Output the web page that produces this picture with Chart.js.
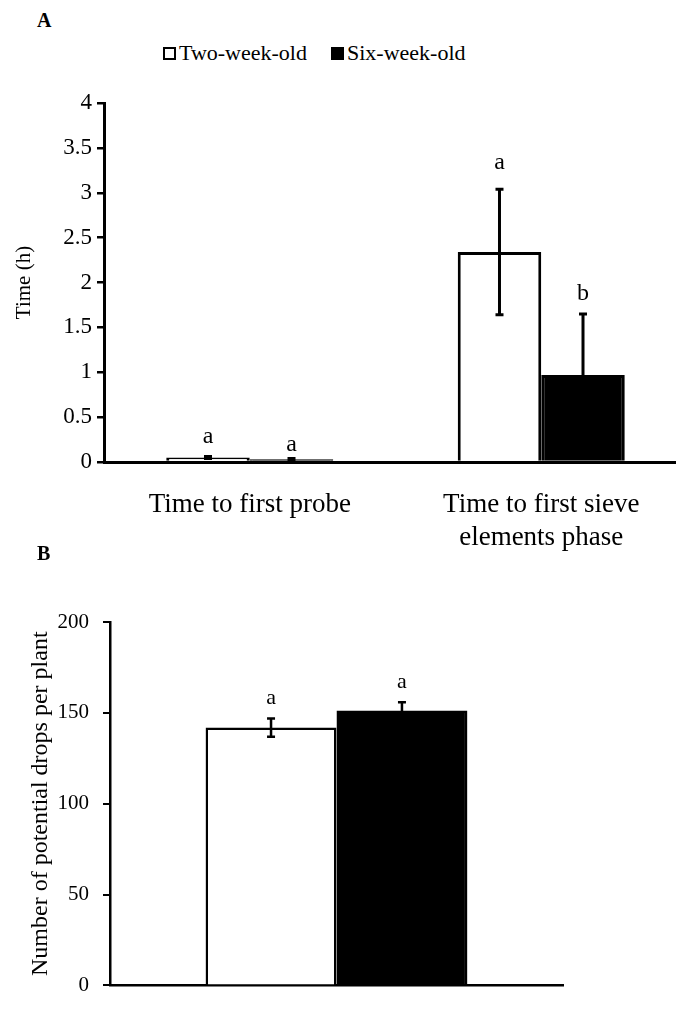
<!DOCTYPE html>
<html>
<head>
<meta charset="utf-8">
<script src="https://cdn.jsdelivr.net/npm/chart.js@4.4.1/dist/chart.umd.min.js"></script>
<style>
  html, body { margin: 0; padding: 0; background: #fff; overflow: hidden; }
  body { width: 676px; height: 1012px; position: relative; font-family: 'Liberation Serif', 'Times New Roman', serif; color: #000; }
  .tag { position: absolute; left: 37px; font-weight: bold; font-size: 20px; line-height: 20px; }
  #legendA { position: absolute; left: 163px; top: 41px; font-size: 22px; line-height: 24px; display: flex; align-items: center; white-space: nowrap; }
  .swatch { display: inline-block; width: 9px; height: 9px; border: 2px solid #000; margin-right: 3px; background: #fff; }
  .gap { margin-left: 24px; }
  canvas { position: absolute; left: 0; }
  #chartA { top: 0; }
  #chartB { top: 560px; }
</style>
</head>
<body>
<div class="tag" style="top:10px">A</div>
<div id="legendA"></div>
<canvas id="chartA" width="700" height="560"></canvas>
<div class="tag" style="top:543px">B</div>
<canvas id="chartB" width="676" height="452"></canvas>

<script>
// series names and colours
const seriesNames = ['Two-week-old', 'Six-week-old'];
const seriesFill = ['#ffffff', '#000000'];

// panel A: time to first probe / sieve elements phase (h)
const categoriesA = ['Time to first probe', ['Time to first sieve', 'elements phase']];
const twoWeekA = [0.05, 2.34];
const sixWeekA = [0.03, 0.97];
const twoWeekErrA = [0.01, 0.70];
const sixWeekErrA = [0.01, 0.68];
const twoWeekLettersA = ['a', 'a'];
const sixWeekLettersA = ['a', 'b'];
const twoWeekLetterAtA = [0.28, 3.34];
const sixWeekLetterAtA = [0.19, 1.88];
const yTicksA = { min: 0, max: 4, step: 0.5 };

// panel B: potential drops per plant
const categoriesB = [''];
const twoWeekB = [141.9];
const sixWeekB = [151.3];
const twoWeekErrB = [5];
const sixWeekErrB = [4.5];
const twoWeekLettersB = ['a'];
const sixWeekLettersB = ['a'];
const twoWeekLetterAtB = [158];
const sixWeekLetterAtB = [167];
const yTicksB = { min: 0, max: 200, step: 50 };

Chart.defaults.font.family = "'Liberation Serif', 'Times New Roman', serif";
Chart.defaults.color = '#000';

// html legend built from the series names
const legend = document.getElementById('legendA');
seriesNames.forEach((name, i) => {
    const sw = document.createElement('span');
    sw.className = 'swatch' + (i > 0 ? ' gap' : '');
    sw.style.background = seriesFill[i];
    const txt = document.createElement('span');
    txt.textContent = name;
    legend.appendChild(sw);
    legend.appendChild(txt);
});

// draws error bars and significance letters using the chart's y scale
function makeErrorPlugin(errors, letters, letterAt, fontSize, lineW, cap) {
    return {
        id: 'errorBars',
        afterDatasetsDraw(chart) {
            const ctx = chart.ctx;
            const y = chart.scales.y;
            chart.data.datasets.forEach((ds, di) => {
                const meta = chart.getDatasetMeta(di);
                meta.data.forEach((bar, i) => {
                    const v = ds.data[i];
                    const e = errors[di][i];
                    const top = y.getPixelForValue(v + e);
                    const bot = y.getPixelForValue(v - e);
                    ctx.save();
                    ctx.strokeStyle = '#000';
                    ctx.lineWidth = lineW;
                    ctx.beginPath();
                    ctx.moveTo(bar.x, top); ctx.lineTo(bar.x, bot);
                    ctx.moveTo(bar.x - cap, top); ctx.lineTo(bar.x + cap, top);
                    ctx.moveTo(bar.x - cap, bot); ctx.lineTo(bar.x + cap, bot);
                    ctx.stroke();
                    ctx.fillStyle = '#000';
                    ctx.font = fontSize + "px 'Liberation Serif', serif";
                    ctx.textAlign = 'center';
                    ctx.textBaseline = 'middle';
                    ctx.fillText(letters[di][i], bar.x, y.getPixelForValue(letterAt[di][i]));
                    ctx.restore();
                });
            });
        }
    };
}

function datasets(a, b, borderW) {
    return [
        { label: seriesNames[0], data: a, backgroundColor: seriesFill[0], borderColor: '#000', borderWidth: borderW },
        { label: seriesNames[1], data: b, backgroundColor: seriesFill[1], borderColor: '#000', borderWidth: borderW }
    ];
}

new Chart(document.getElementById('chartA'), {
    type: 'bar',
    data: { labels: categoriesA, datasets: datasets(twoWeekA, sixWeekA, 3) },
    options: {
        responsive: false,
        animation: false,
        events: [],
        layout: { padding: { top: 103, right: 13, left: 0, bottom: 0 } },
        datasets: { bar: { categoryPercentage: 0.573, barPercentage: 1 } },
        plugins: { legend: { display: false }, tooltip: { enabled: false } },
        scales: {
            x: {
                grid: { display: false },
                border: { color: '#000', width: 3 },
                ticks: { font: { size: 27 }, padding: 19, maxRotation: 0 },
                afterFit(s) { s.height = 98; }
            },
            y: {
                min: yTicksA.min,
                max: yTicksA.max,
                ticks: { stepSize: yTicksA.step, font: { size: 23 }, padding: 5, callback: v => String(v) },
                grid: { drawOnChartArea: false, tickLength: 7, color: '#000', lineWidth: 2.5 },
                border: { color: '#000', width: 3 },
                title: { display: true, text: 'Time (h)', font: { size: 21 }, padding: { top: 12, bottom: 0 } },
                afterFit(s) { s.width = 104; }
            }
        }
    },
    plugins: [makeErrorPlugin([twoWeekErrA, sixWeekErrA], [twoWeekLettersA, sixWeekLettersA],
        [twoWeekLetterAtA, sixWeekLetterAtA], 24, 3, 4)]
});

new Chart(document.getElementById('chartB'), {
    type: 'bar',
    data: { labels: categoriesB, datasets: datasets(twoWeekB, sixWeekB, 2.5) },
    options: {
        responsive: false,
        animation: false,
        events: [],
        layout: { padding: { top: 62, right: 113, left: 0, bottom: 0 } },
        datasets: { bar: { categoryPercentage: 0.578, barPercentage: 1 } },
        plugins: { legend: { display: false }, tooltip: { enabled: false } },
        scales: {
            x: {
                grid: { display: false },
                border: { color: '#000', width: 2.5 },
                ticks: { display: false },
                afterFit(s) { s.height = 8; }
            },
            y: {
                min: yTicksB.min,
                max: yTicksB.max,
                ticks: { stepSize: yTicksB.step, font: { size: 21 }, padding: 14 },
                grid: { drawOnChartArea: false, tickLength: 7, color: '#000', lineWidth: 2 },
                border: { color: '#000', width: 2.5 },
                title: { display: true, text: 'Number of potential drops per plant', font: { size: 24 }, padding: { top: 26, bottom: 0 } },
                afterFit(s) { s.width = 110; }
            }
        }
    },
    plugins: [makeErrorPlugin([twoWeekErrB, sixWeekErrB], [twoWeekLettersB, sixWeekLettersB],
        [twoWeekLetterAtB, sixWeekLetterAtB], 22, 2.5, 4)]
});
</script>
</body>
</html>
